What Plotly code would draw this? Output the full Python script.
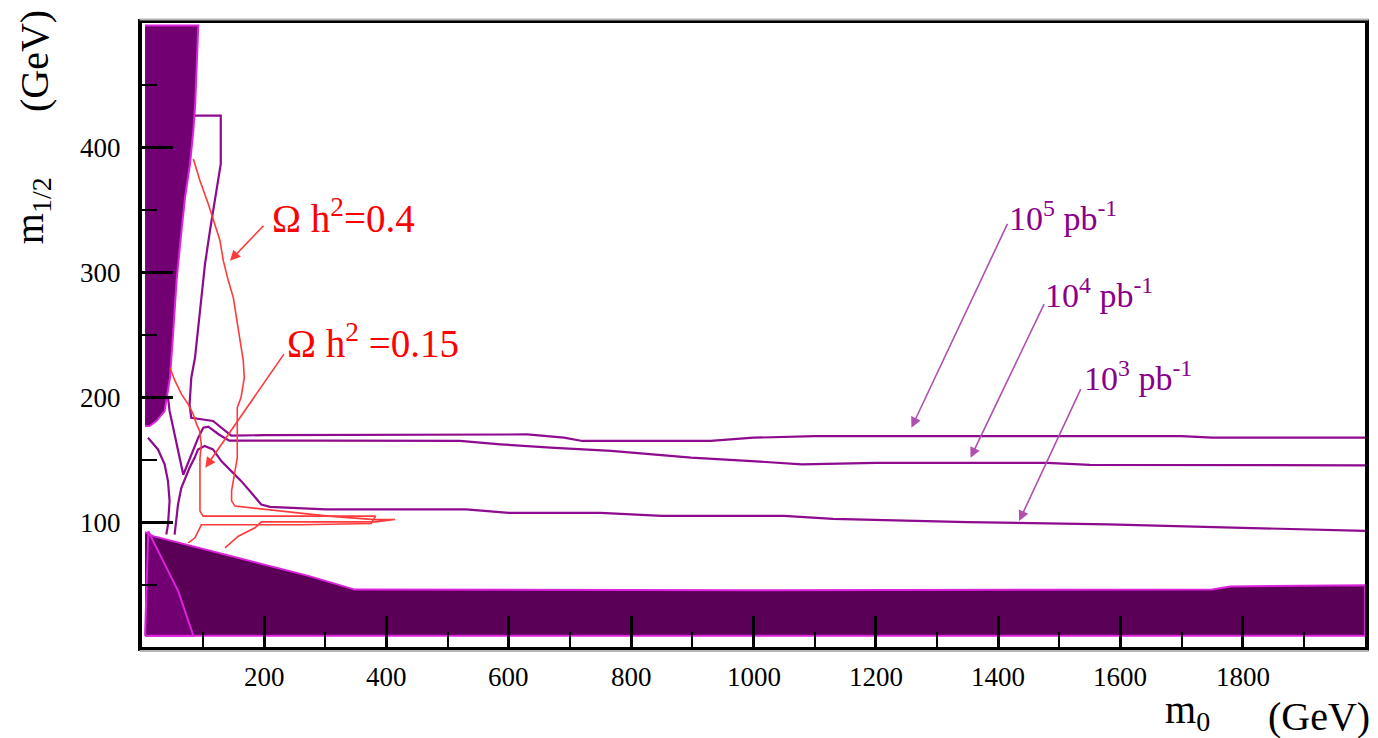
import plotly.graph_objects as go

# ---------------- data (m0, m1/2 in GeV) ----------------
x_tick_vals = [200, 400, 600, 800, 1000, 1200, 1400, 1600, 1800]
x_tick_text = ["200", "400", "600", "800", "1000", "1200", "1400", "1600", "1800"]
x_minor_vals = [100, 300, 500, 700, 900, 1100, 1300, 1500, 1700, 1900]
y_tick_vals = [100, 200, 300, 400]
y_minor_vals = [50, 150, 250, 350, 450]

# excluded regions
upper_band_m0 = [5, 92, 87, 84, 78.5, 70.3, 64.7, 56.6, 51.2, 45.8, 37, 23.4, 12.4, 5]
upper_band_m12 = [498, 498, 435, 414, 387, 360, 334, 294, 253.5, 216, 189, 181, 177, 177]

lower_band_m0 = [5, 18.5, 272, 348, 1000, 1750, 1780, 2000, 2000, 5]
lower_band_m12 = [92, 88.8, 57, 46, 45.5, 46, 48.5, 49.5, 9, 9]

corner_m0 = [5, 10.3, 32, 59.4, 84, 5]
corner_m12 = [9, 92.8, 71.4, 44.6, 9, 9]

# discovery reach contours
reach5_m0 = [86.7, 128.8, 128.8, 119.4, 111.2, 103, 94.8, 86.7, 80.6, 77.8, 80.6, 116.1, 146,
             200, 630, 690, 720, 930, 1000, 1100, 1700, 1750, 2000]
reach5_m12 = [425.8, 425.8, 387, 360.2, 333.8, 306.7, 266.6, 231.9, 215.8, 194.4, 183.7, 181.1, 169.3,
              169.8, 170.3, 167.7, 165.1, 165.1, 167.7, 169, 169, 167.7, 167.7]

reach4_m0 = [42.5, 45.1, 67.5, 92, 100.2, 108.4, 126.4, 142.7, 300, 520, 586, 668, 767, 833, 898,
             997, 1079, 1200, 1480, 1550, 2000]
reach4_m12 = [199.8, 189.1, 138, 167.7, 175.7, 176.5, 170.1, 165.3, 165.3, 165.1, 162.4, 159.7, 157.1,
              154.3, 151.7, 149, 146.3, 147.6, 147.6, 146, 145.5]

reach3_m0 = [53.3, 58.9, 64.3, 77.8, 86, 91.6, 102.4, 116.1, 129.7, 146, 162.4, 178.7, 195, 209.3,
             300, 530, 600, 750, 850, 1050, 1130, 1350, 1580, 1800, 2000]
reach3_m12 = [90.1, 114.2, 127.6, 143.6, 151.6, 158.3, 161, 158.3, 149, 141, 132.9, 123.6, 114.2, 112.3,
              110.2, 110.2, 107.5, 107.5, 105, 105, 102.7, 100.1, 98.2, 95.5, 93]

reach_left_m0 = [9.8, 26.2, 37, 42.5, 45.1, 42.5, 39.7]
reach_left_m12 = [167.7, 158.3, 146.3, 132.9, 116.9, 98.1, 90.1]

# relic density contours
omega04_m0 = [83.9, 94.8, 108.4, 116.6, 127.5, 132.9, 141.1, 149.3, 154.7, 160.2, 165.6, 167.3, 162,
              155.8, 155.8, 146.5, 146.5, 152, 206.5, 255.5, 304.6, 381, 413.7, 381, 300, 195, 184.8,
              157.5, 135.7]
omega04_m12 = [391, 373.6, 354.9, 341.8, 325.7, 309.7, 293.6, 280, 263.9, 247.9, 229.5, 215.8, 200,
               191.8, 151.6, 125.2, 117.1, 112.9, 110.2, 107.5, 104.9, 102.1, 102.1, 100.3, 100.3, 100.3,
               95.5, 88.8, 79.4]

omega015_m0 = [45.8, 54, 64.7, 75.7, 83.9, 89.3, 94.2, 97, 94.8, 94.8, 94.8, 100, 382, 375, 260, 97,
               86.7, 75.7]
omega015_m12 = [223.8, 213.2, 202.4, 194.4, 186.4, 178.4, 173.1, 162.3, 151.6, 124.9, 108.9, 104.9,
                104.9, 99, 97.9, 97.9, 87.5, 83.4]

# labels: (text, m0, m12)
omega_labels = [("Ω h<sup>2</sup>=0.4", 210, 345), ("Ω h<sup>2</sup> =0.15", 234, 245)]
# arrows: (tail_m0, tail_m12, tip_m0, tip_m12)
omega_arrows = [(201.1, 338.8, 143.9, 309.5), (233.8, 235.9, 103.5, 143.6)]

lumi_labels = [("10<sup>5</sup> pb<sup>-1</sup>", 1414, 345),
               ("10<sup>4</sup> pb<sup>-1</sup>", 1474, 284),
               ("10<sup>3</sup> pb<sup>-1</sup>", 1538, 217)]
lumi_arrows = [(1416.4, 340.2, 1258.3, 175.7),
               (1476.4, 276, 1354.9, 151.6),
               (1536.3, 207.8, 1434.4, 100.9)]

# ---------------- styles ----------------
FONT = "Liberation Serif"
BAND_DARK = "#5a0056"
BAND = "#720072"
EDGE = "#dd22dd"
PURPLE = "#8e0a8e"
RED = "#ff3a3a"

fig = go.Figure()

fig.add_trace(go.Scatter(x=lower_band_m0, y=lower_band_m12, fill="toself", fillcolor=BAND_DARK,
                         mode="lines", line=dict(color=EDGE, width=2), hoverinfo="skip"))
fig.add_trace(go.Scatter(x=corner_m0, y=corner_m12, fill="toself", fillcolor=BAND,
                         mode="lines", line=dict(color=EDGE, width=2), hoverinfo="skip"))
fig.add_trace(go.Scatter(x=upper_band_m0, y=upper_band_m12, fill="toself", fillcolor=BAND,
                         mode="lines", line=dict(color=EDGE, width=2), hoverinfo="skip"))

for xs, ys in [(reach5_m0, reach5_m12), (reach4_m0, reach4_m12), (reach3_m0, reach3_m12),
               (reach_left_m0, reach_left_m12)]:
    fig.add_trace(go.Scatter(x=xs, y=ys, mode="lines", line=dict(color=PURPLE, width=2.2),
                             hoverinfo="skip"))

for xs, ys in [(omega04_m0, omega04_m12), (omega015_m0, omega015_m12)]:
    fig.add_trace(go.Scatter(x=xs, y=ys, mode="lines", line=dict(color=RED, width=1.6),
                             hoverinfo="skip"))

annotations = []
for text, x, y in omega_labels:
    annotations.append(dict(x=x, y=y, xref="x", yref="y", text=text, showarrow=False,
                            xanchor="left", yanchor="middle",
                            font=dict(family=FONT, size=39, color="#ff0000")))
for tx, ty, hx, hy in omega_arrows:
    annotations.append(dict(x=hx, y=hy, ax=tx, ay=ty, xref="x", yref="y", axref="x", ayref="y",
                            text="", showarrow=True, arrowhead=2, arrowsize=1.3, arrowwidth=1.6,
                            arrowcolor=RED))
for text, x, y in lumi_labels:
    annotations.append(dict(x=x, y=y, xref="x", yref="y", text=text, showarrow=False,
                            xanchor="left", yanchor="middle",
                            font=dict(family=FONT, size=34, color="#8b008b")))
for tx, ty, hx, hy in lumi_arrows:
    annotations.append(dict(x=hx, y=hy, ax=tx, ay=ty, xref="x", yref="y", axref="x", ayref="y",
                            text="", showarrow=True, arrowhead=2, arrowsize=1.3, arrowwidth=1.6,
                            arrowcolor="#b050b0"))

# x tick labels, placed on the axis' own data positions
for v, t in zip(x_tick_vals, x_tick_text):
    annotations.append(dict(x=v, y=-0.0481, xref="x", yref="paper", text=t, showarrow=False,
                            xanchor="center", yanchor="middle",
                            font=dict(family=FONT, size=27, color="black")))

# axis titles
TITLE_SIZE = 40
annotations += [
    dict(x=-0.0883, y=0.939, xref="paper", yref="paper", text="(GeV)", textangle=-90,
         showarrow=False, xanchor="center", yanchor="middle",
         font=dict(family=FONT, size=TITLE_SIZE, color="black")),
    dict(x=-0.090, y=0.700, xref="paper", yref="paper", text="m<sub>1/2</sub>", textangle=-90,
         showarrow=False, xanchor="center", yanchor="middle",
         font=dict(family=FONT, size=TITLE_SIZE, color="black")),
    dict(x=0.8345, y=-0.1042, xref="paper", yref="paper", text="m<sub>0</sub>",
         showarrow=False, xanchor="left", yanchor="middle",
         font=dict(family=FONT, size=TITLE_SIZE, color="black")),
    dict(x=0.919, y=-0.1106, xref="paper", yref="paper", text="(GeV)",
         showarrow=False, xanchor="left", yanchor="middle",
         font=dict(family=FONT, size=TITLE_SIZE, color="black")),
]

shapes = [
    dict(type="line", xref="paper", yref="paper", x0=-0.002, x1=1.003, y0=1.0055, y1=1.0055,
         line=dict(color="#b4b4b4", width=2)),
    dict(type="line", xref="paper", yref="paper", x0=-0.002, x1=1.003, y0=-0.0065, y1=-0.0065,
         line=dict(color="#b4b4b4", width=2)),
]

axis_common = dict(showgrid=False, zeroline=False, showline=True, linecolor="black", linewidth=4,
                   mirror=True, ticks="inside", tickcolor="black", tickwidth=3, ticklen=31,
                   tickfont=dict(family=FONT, size=27, color="black"), layer="above traces")

fig.update_layout(
    width=1378, height=738,
    margin=dict(l=134, r=21, t=15, b=99),
    paper_bgcolor="white", plot_bgcolor="white",
    showlegend=False,
    annotations=annotations,
    shapes=shapes,
    xaxis=dict(range=[0, 2000], tickvals=x_tick_vals, showticklabels=False,
               minor=dict(ticks="inside", tickvals=x_minor_vals, ticklen=15, tickwidth=2,
                          tickcolor="black"),
               **axis_common),
    yaxis=dict(range=[0, 500], tickvals=y_tick_vals, ticklabelstandoff=12,
               minor=dict(ticks="inside", tickvals=y_minor_vals, ticklen=15, tickwidth=2,
                          tickcolor="black"),
               **axis_common),
)

fig.write_html("out.html")
